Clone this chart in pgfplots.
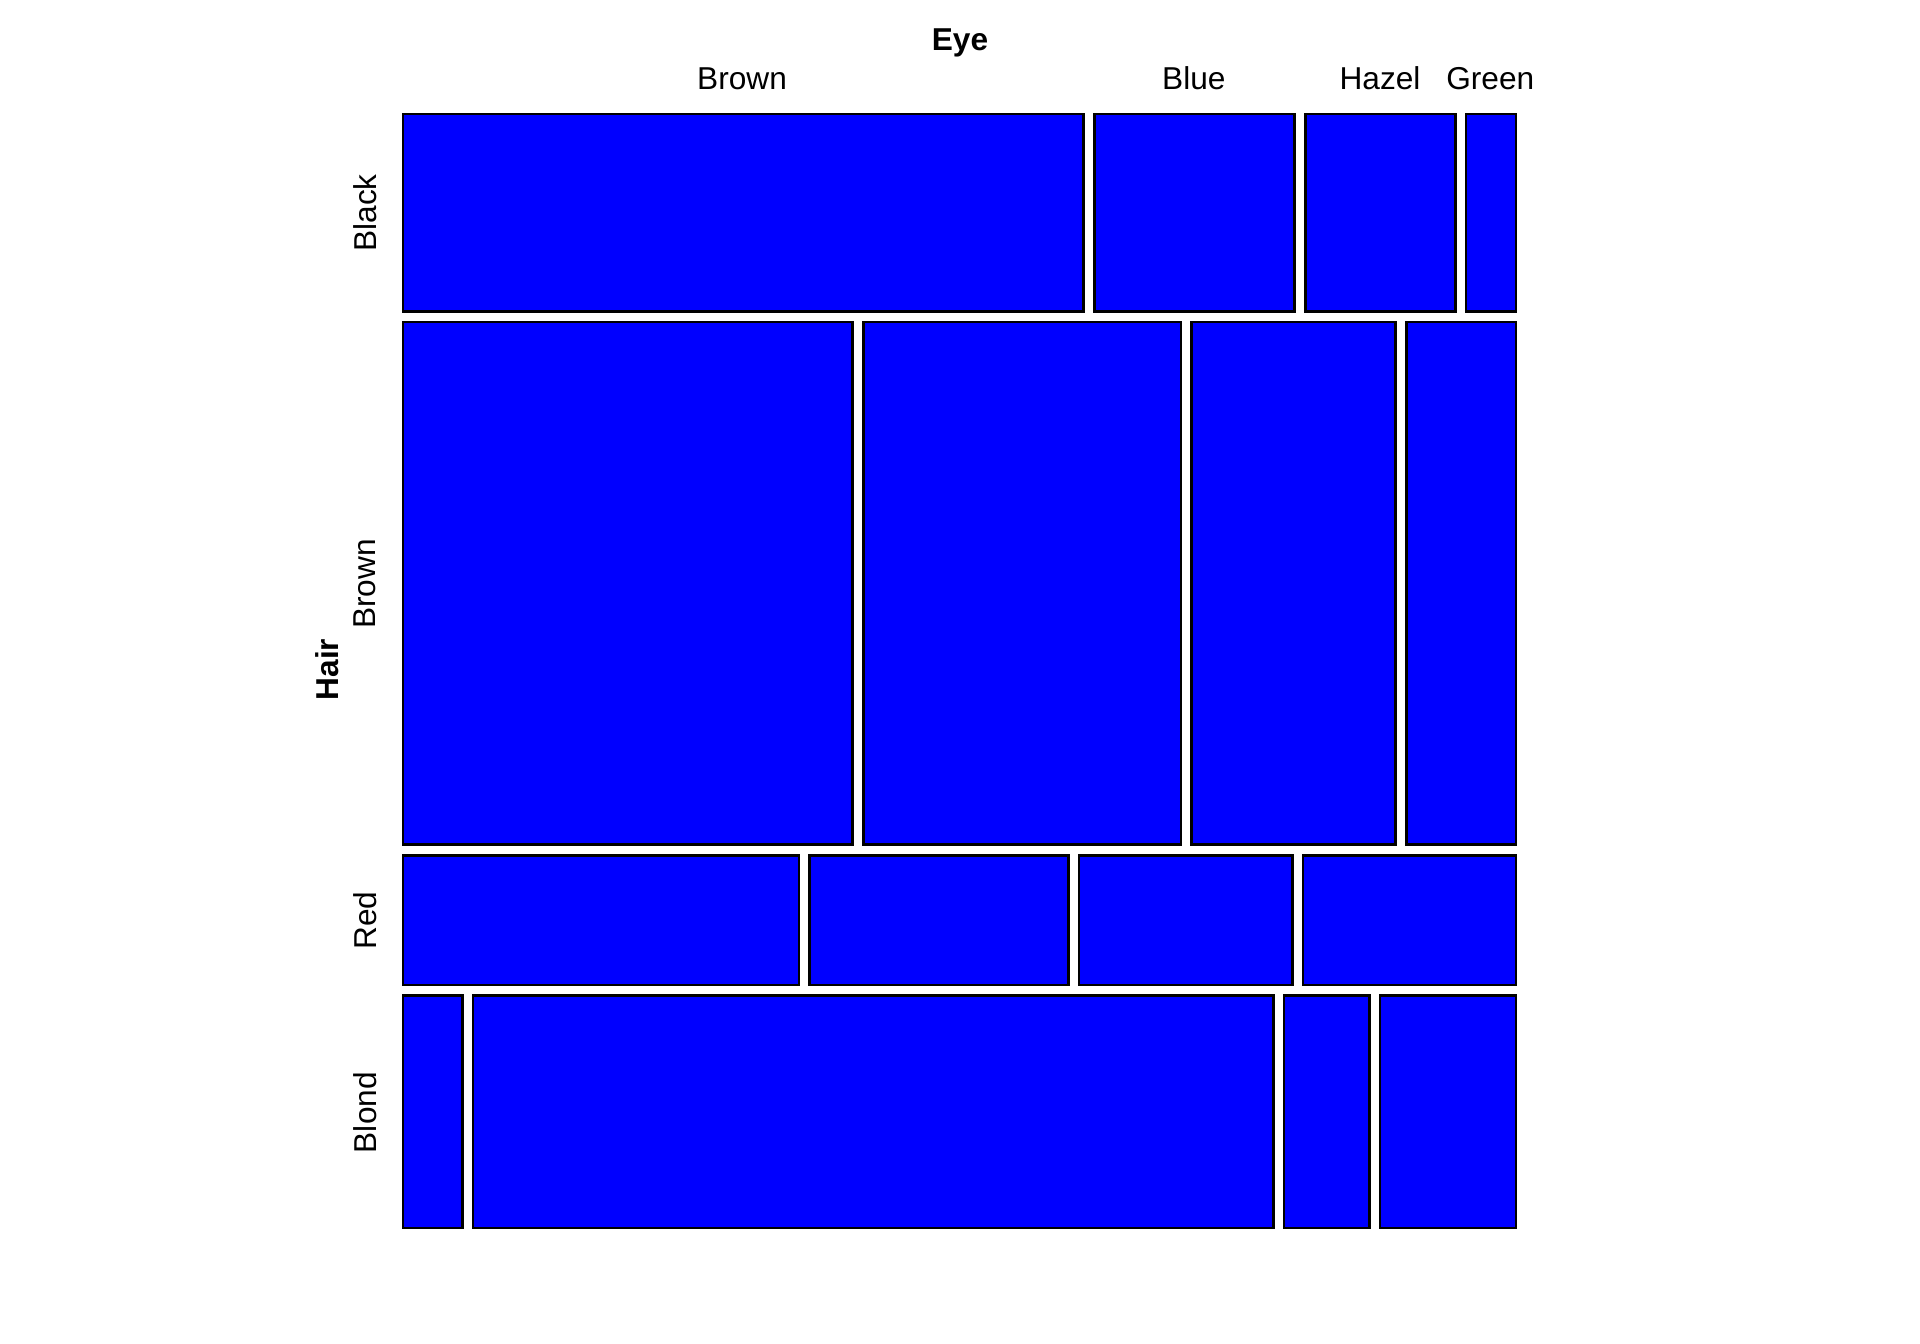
\documentclass[border=0pt]{standalone}
\usepackage{pgfplots}
\pgfplotsset{compat=1.18}
\usepackage{fontspec}
\setmainfont{Liberation Sans}
\begin{document}
\begin{tikzpicture}
\begin{axis}[
  scale only axis, width=19.2cm, height=13.44cm,
  xmin=0, xmax=1568, ymin=0, ymax=1098, y dir=reverse,
  hide axis, clip=false,
  mosaic/.style={fill=blue, draw=black, line width=0.75pt, mark=none, solid},
]
\path (rel axis cs:0,0) rectangle (rel axis cs:1,1);
% Black hair
\addplot[mosaic] coordinates {(329,93) (885.0,93) (885.0,254.3) (329,254.3)} -- cycle;
\addplot[mosaic] coordinates {(893.7,93) (1057.2,93) (1057.2,254.3) (893.7,254.3)} -- cycle;
\addplot[mosaic] coordinates {(1065.9,93) (1188.5,93) (1188.5,254.3) (1065.9,254.3)} -- cycle;
\addplot[mosaic] coordinates {(1197.2,93) (1238.1,93) (1238.1,254.3) (1197.2,254.3)} -- cycle;
% Brown hair
\addplot[mosaic] coordinates {(329,263.0) (696.4,263.0) (696.4,690.1) (329,690.1)} -- cycle;
\addplot[mosaic] coordinates {(705.1,263.0) (964.4,263.0) (964.4,690.1) (705.1,690.1)} -- cycle;
\addplot[mosaic] coordinates {(973.1,263.0) (1139.8,263.0) (1139.8,690.1) (973.1,690.1)} -- cycle;
\addplot[mosaic] coordinates {(1148.5,263.0) (1238.1,263.0) (1238.1,690.1) (1148.5,690.1)} -- cycle;
% Red hair
\addplot[mosaic] coordinates {(329,698.8) (652.4,698.8) (652.4,804.8) (329,804.8)} -- cycle;
\addplot[mosaic] coordinates {(661.1,698.8) (872.5,698.8) (872.5,804.8) (661.1,804.8)} -- cycle;
\addplot[mosaic] coordinates {(881.2,698.8) (1055.3,698.8) (1055.3,804.8) (881.2,804.8)} -- cycle;
\addplot[mosaic] coordinates {(1064.0,698.8) (1238.1,698.8) (1238.1,804.8) (1064.0,804.8)} -- cycle;
% Blond hair
\addplot[mosaic] coordinates {(329,813.5) (377.7,813.5) (377.7,1003.1) (329,1003.1)} -- cycle;
\addplot[mosaic] coordinates {(386.4,813.5) (1040.0,813.5) (1040.0,1003.1) (386.4,1003.1)} -- cycle;
\addplot[mosaic] coordinates {(1048.7,813.5) (1118.2,813.5) (1118.2,1003.1) (1048.7,1003.1)} -- cycle;
\addplot[mosaic] coordinates {(1126.9,813.5) (1238.1,813.5) (1238.1,1003.1) (1126.9,1003.1)} -- cycle;
% labels
\node[font=\fontsize{9}{11}\selectfont\bfseries] at (axis cs:784,35) {Eye};
\node[font=\fontsize{9}{11}\selectfont] at (axis cs:606,64) {Brown};
\node[font=\fontsize{9}{11}\selectfont] at (axis cs:975,64) {Blue};
\node[font=\fontsize{9}{11}\selectfont] at (axis cs:1127,64) {Hazel};
\node[font=\fontsize{9}{11}\selectfont] at (axis cs:1217,64) {Green};
\node[font=\fontsize{9}{11}\selectfont\bfseries, rotate=90] at (axis cs:267,547) {Hair};
\node[font=\fontsize{9}{11}\selectfont, rotate=90] at (axis cs:298,174) {Black};
\node[font=\fontsize{9}{11}\selectfont, rotate=90] at (axis cs:298,477) {Brown};
\node[font=\fontsize{9}{11}\selectfont, rotate=90] at (axis cs:298,752) {Red};
\node[font=\fontsize{9}{11}\selectfont, rotate=90] at (axis cs:298,909) {Blond};
\end{axis}
\end{tikzpicture}
\end{document}
